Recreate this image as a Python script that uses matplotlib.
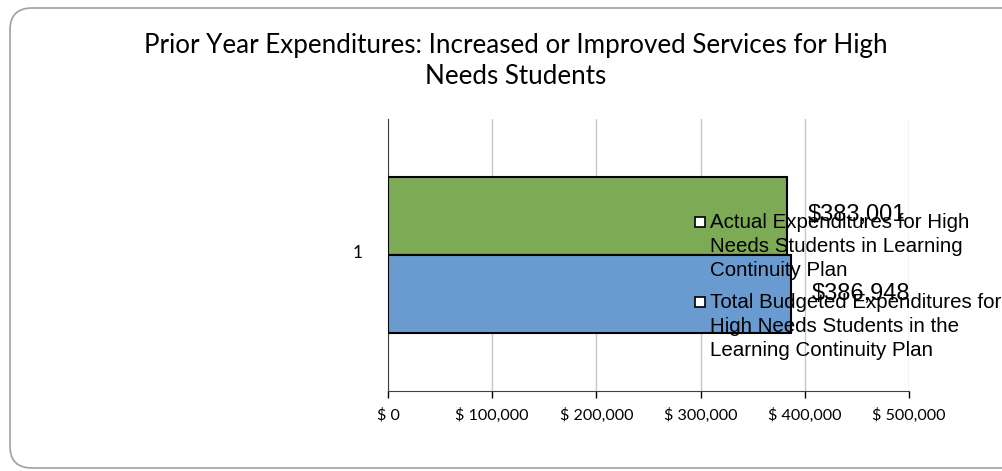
import matplotlib.pyplot as plt
from matplotlib.patches import FancyBboxPatch
from matplotlib.lines import Line2D
from matplotlib.ticker import FuncFormatter

# Expenditure data
categories = ["1"]
series_names = [
    "Actual Expenditures for High\nNeeds Students in Learning\nContinuity Plan",
    "Total Budgeted Expenditures for\nHigh Needs Students in the\nLearning Continuity Plan",
]
actual = [383001]
budgeted = [386948]
value_labels = ["$383,001", "$386,948"]
x_ticks = [0, 100000, 200000, 300000, 400000, 500000]

green = "#7dab55"
blue = "#6a9bd0"

fig = plt.figure(figsize=(10.02, 4.71), dpi=100)

# rounded frame around the chart
frame = FancyBboxPatch((10 / 1002, 3 / 471), 1.2, 460 / 471,
                       boxstyle="round,pad=0,rounding_size=0.022",
                       transform=fig.transFigure, facecolor="white",
                       edgecolor="#a0a0a0", linewidth=1.2, mutation_aspect=2.1,
                       zorder=-5)
fig.patches.append(frame)

ax = fig.add_axes([388 / 1002, 1 - 391 / 471, 521 / 1002, 272 / 471])
ax.set_facecolor("none")

h = 0.285
y = 1
ax.barh(y + h / 2, actual, height=h, color=green, edgecolor="black", linewidth=1.5, zorder=3)
ax.barh(y - h / 2, budgeted, height=h, color=blue, edgecolor="black", linewidth=1.5, zorder=3)

ax.set_xlim(0, 500000)
ax.set_ylim(0.5, 1.5)
ax.set_xticks(x_ticks)
ax.xaxis.set_major_formatter(FuncFormatter(lambda v, p: "$ {:,.0f}".format(v)))
ax.set_yticks([1.012])
ax.set_yticklabels(categories)
ax.tick_params(axis="y", length=0, pad=18, labelsize=12.5)
ax.tick_params(axis="x", length=5, width=1, direction="out", pad=7, labelsize=11.6)
for lab in ax.get_xticklabels() + ax.get_yticklabels():
    lab.set_family("Lato")
ax.grid(axis="x", color="#c8c8c8", linewidth=1, zorder=0)
for s in ["top", "right"]:
    ax.spines[s].set_visible(False)
ax.spines["left"].set_color("#404040")
ax.spines["bottom"].set_color("#404040")

# value labels
fig.text(808 / 1002, 1 - 215 / 471, value_labels[0],
         fontsize=17, family="Liberation Sans", va="center", ha="left", zorder=5)
fig.text(812 / 1002, 1 - 294 / 471, value_labels[1],
         fontsize=17, family="Liberation Sans", va="center", ha="left", zorder=5)

# legend entries: hollow square next to the first line of each name
legend_rows = [222, 302]
for name, row in zip(series_names, legend_rows):
    fig.add_artist(Line2D([700 / 1002], [1 - row / 471], marker="s", linestyle="none",
                          markersize=7, markerfacecolor="white",
                          markeredgecolor="black", markeredgewidth=1.2,
                          transform=fig.transFigure, zorder=6))
    fig.text(710 / 1002, 1 - (row - 9) / 471, name, ha="left", va="top",
             fontsize=14.8, family="Liberation Sans", linespacing=1.32, zorder=6)

fig.text(516 / 1002, 1 - 45 / 471,
         "Prior Year Expenditures: Increased or Improved Services for High",
         ha="center", va="center", fontsize=18.7, family="Lato")
fig.text(516 / 1002, 1 - 77 / 471, "Needs Students",
         ha="center", va="center", fontsize=18.7, family="Lato")

fig.savefig("out.png", dpi=100)
